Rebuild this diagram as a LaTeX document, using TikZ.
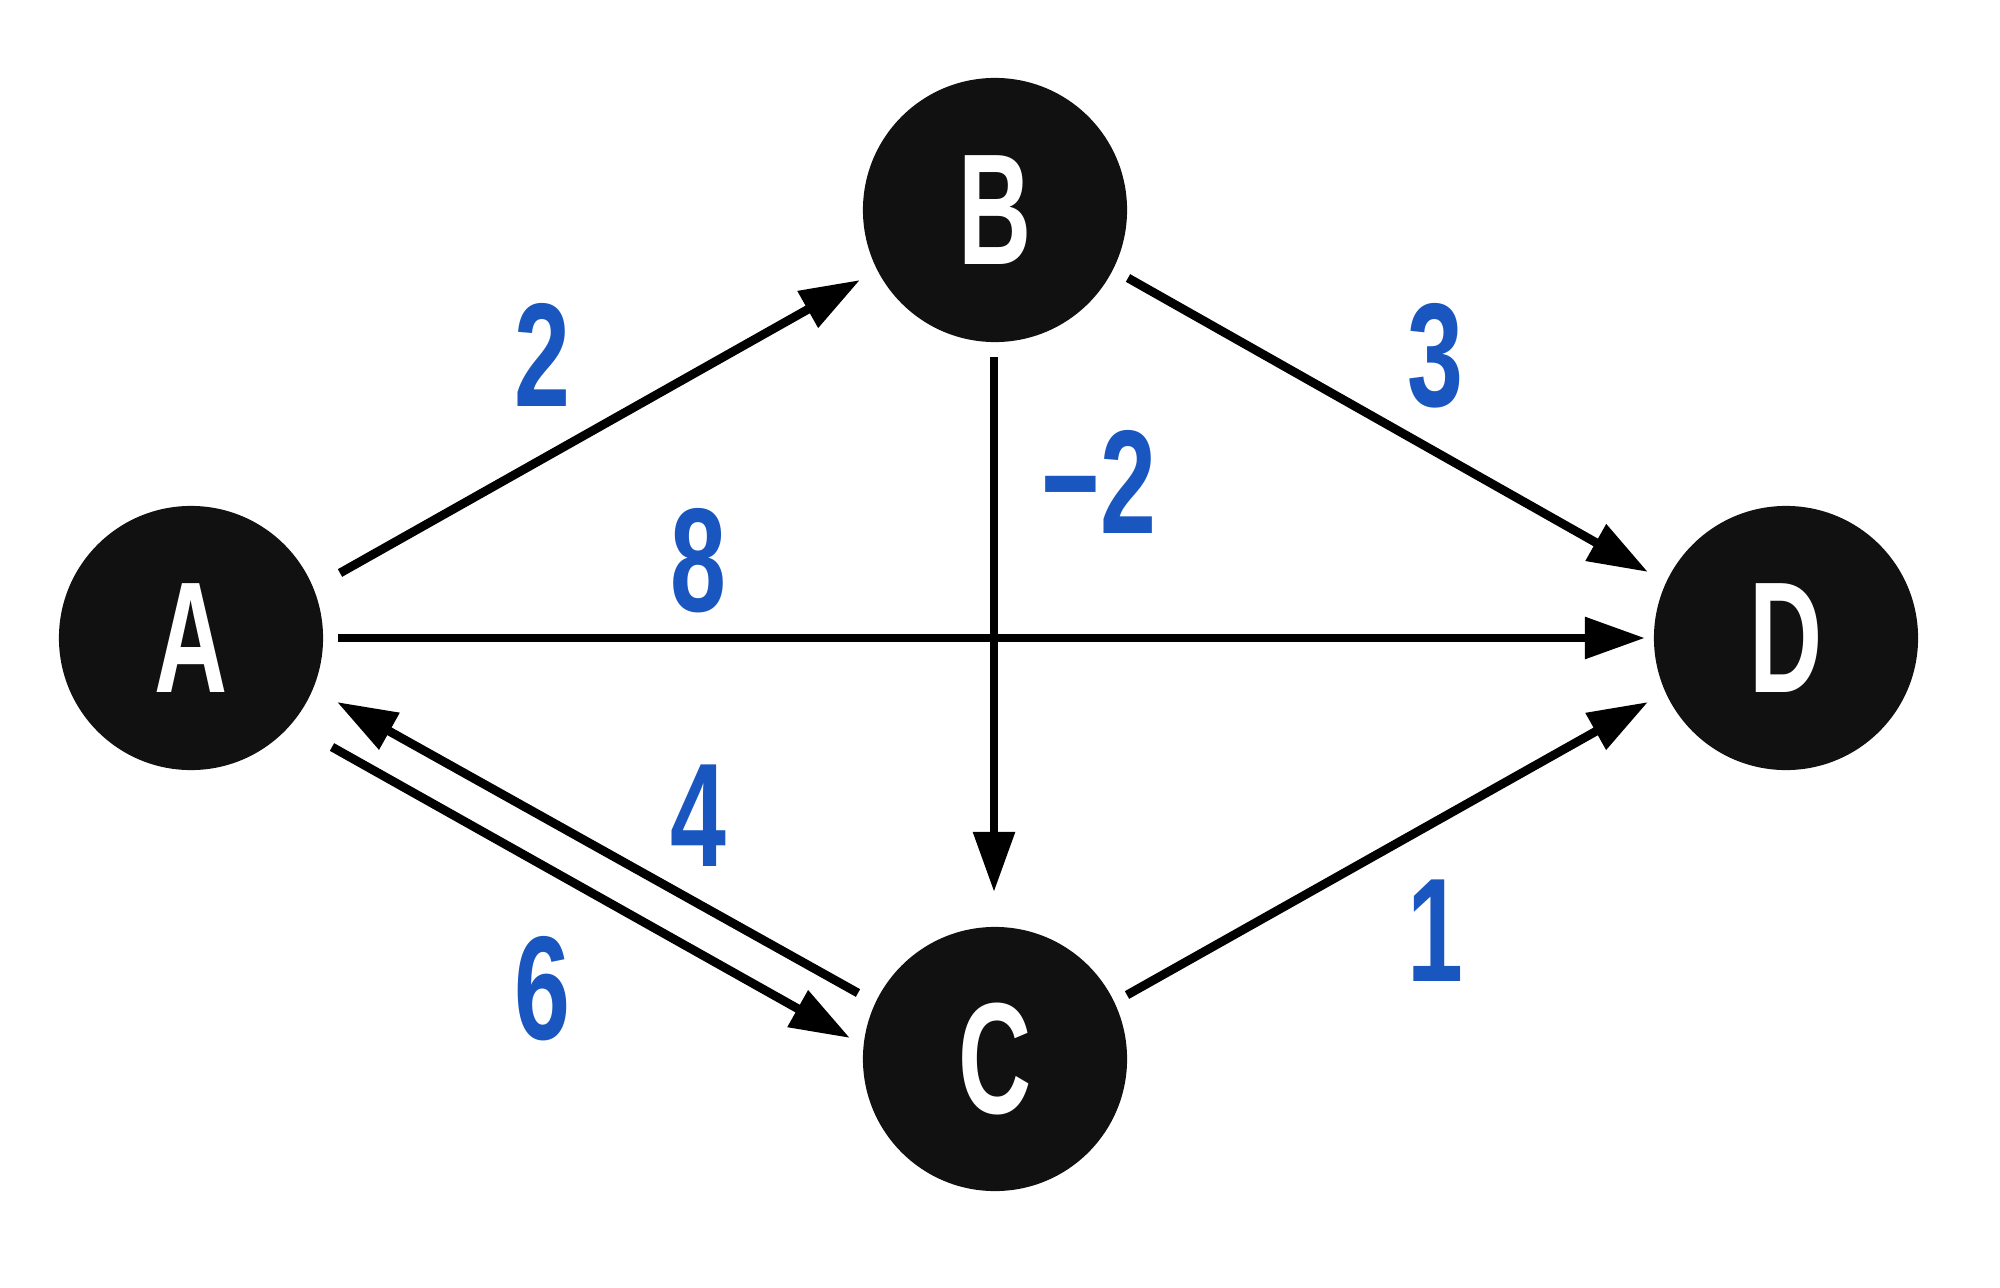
\documentclass[tikz,border=0pt]{standalone}
\usepackage{fontspec}
\setmainfont{Liberation Sans}
\newfontfamily\condfont[FakeStretch=0.64]{Liberation Sans}
\newfontfamily\digitfont[FakeStretch=0.68]{Liberation Sans}
\usetikzlibrary{arrows.meta,calc}
\definecolor{nodefill}{HTML}{111111}
\definecolor{weightblue}{HTML}{1A56C0}
\begin{document}
\begin{tikzpicture}[x=0.01cm,y=-0.01cm,
  vertex/.style={circle, fill=nodefill, minimum size=2.64cm, inner sep=0pt,
    text=white, font=\condfont\bfseries\fontsize{45}{45}\selectfont},
  edge/.style={draw=black, line width=2.5pt,
    -{Triangle[length=0.6cm,width=0.4cm]}},
  weight/.style={text=weightblue, inner sep=0pt,
    font=\digitfont\bfseries\fontsize{42}{42}\selectfont}]
\useasboundingbox (0,0) rectangle (2000,1288);

% vertices
\node[vertex] (A) at (191,638) {A};
\node[vertex] (B) at (995,210) {B};
\node[vertex] (C) at (995,1059) {C};
\node[vertex] (D) at (1786,638) {D};

% weighted edges
\draw[edge] ($(A)+(149,-65)$) -- ($(B)+(-135,70)$);
\draw[edge] ($(A)+(147,0)$) -- ($(D)+(-141,0)$);
\draw[edge] ($(B)+(133,68)$) -- ($(D)+(-138,-66)$);
\draw[edge] ($(B)+(-1,147)$) -- ($(C)+(-1,-167)$);
\draw[edge] ($(C)+(132,-64)$) -- ($(D)+(-138,64)$);
\draw[edge] ($(C)+(-137,-66)$) -- ($(A)+(146,64)$);
\draw[edge] ($(A)+(141,109)$) -- ($(C)+(-145,-21)$);

% weights
\node[weight] (wab) at (542,355) {2};
\node[weight] (wbd) at (1435,356) {3};
\node[weight] (wad) at (698,561) {8};
\node[weight] (wbc) at (1099,482) {−2};
\node[weight] (wca) at (698,816) {4};
\node[weight] (wac) at (542,989) {6};
\node[weight] (wcd) at (1435,931) {1};
\end{tikzpicture}
\end{document}
